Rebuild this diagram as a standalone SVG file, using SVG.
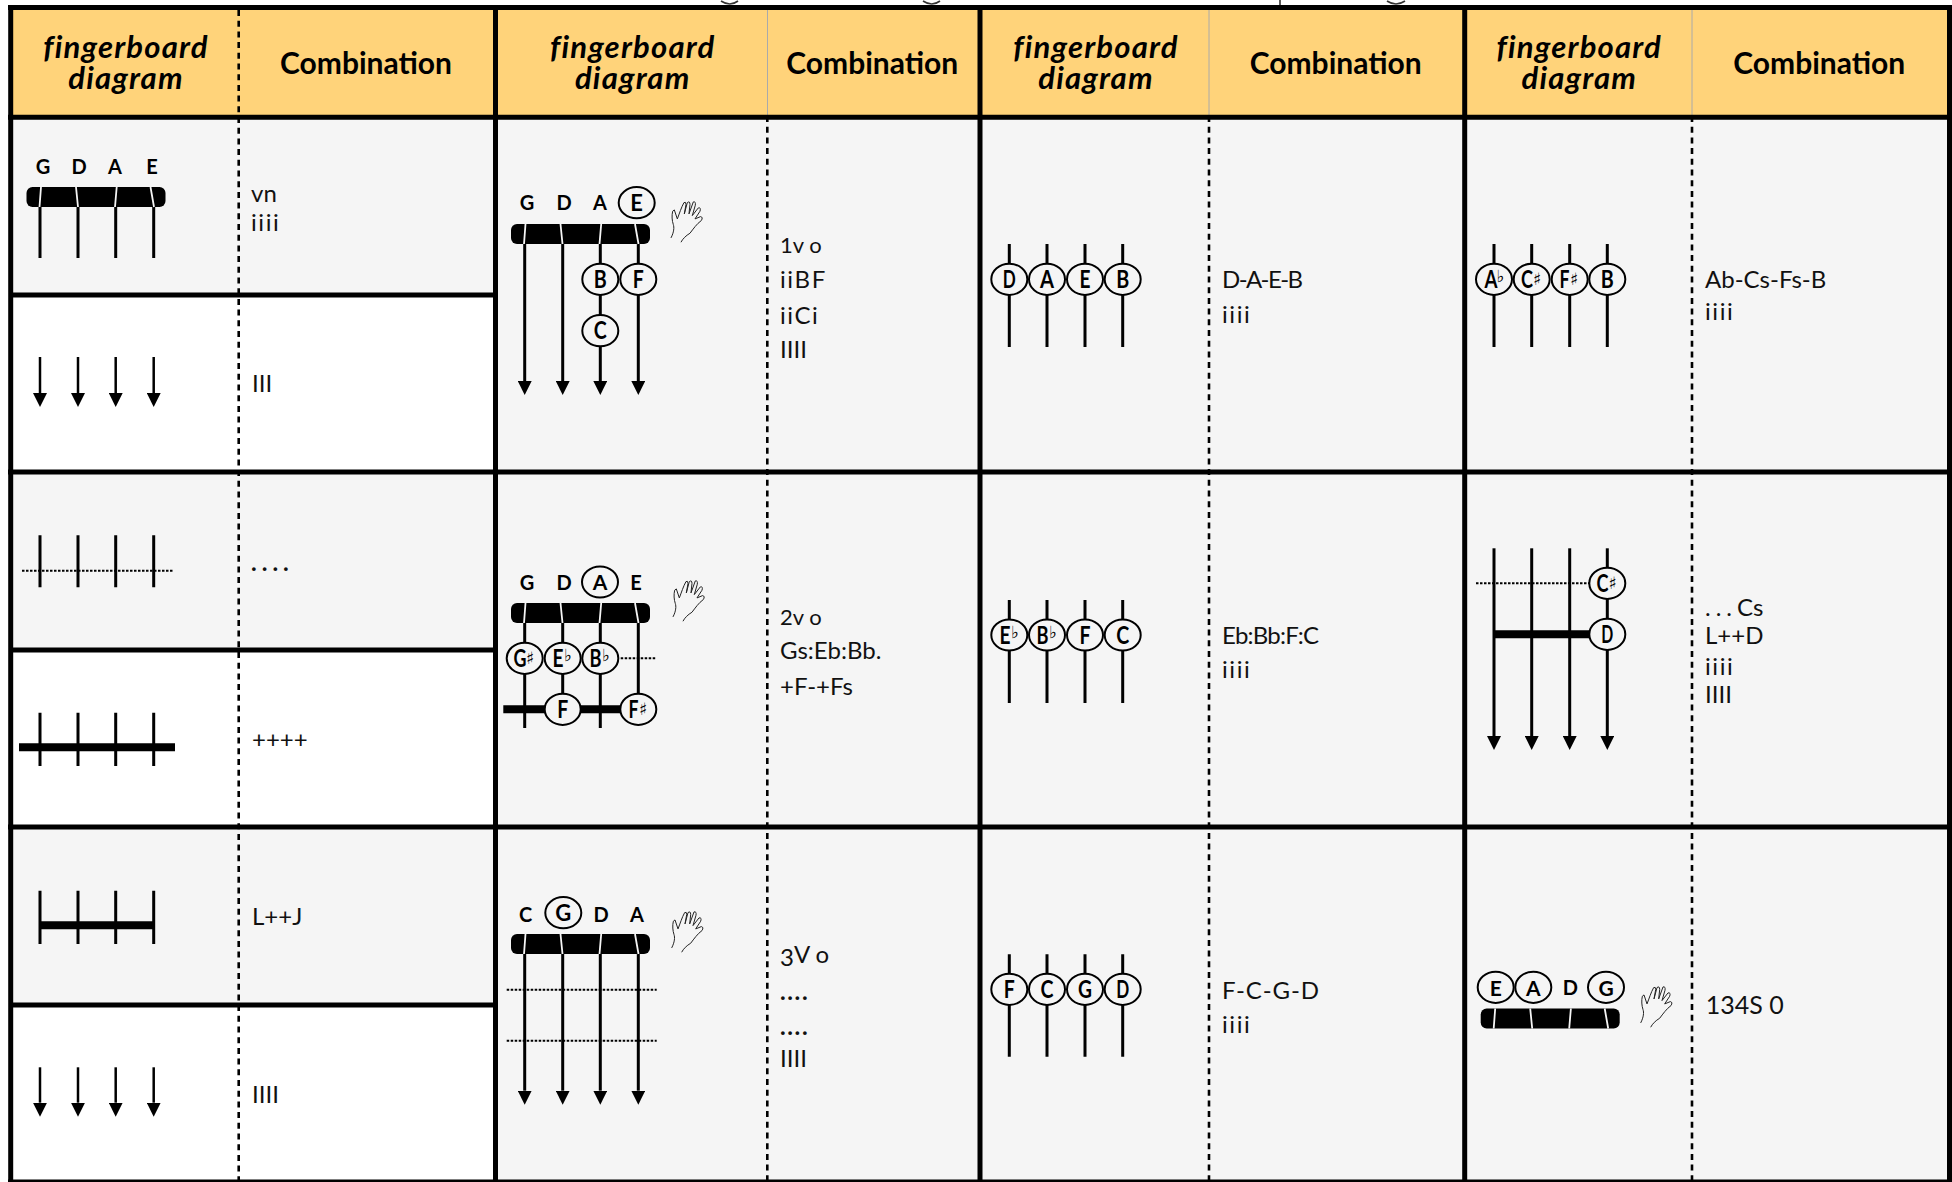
<svg xmlns="http://www.w3.org/2000/svg" xmlns:xlink="http://www.w3.org/1999/xlink" width="1952" height="1182" viewBox="0 0 1952 1182">
<style>
text{font-family:Lato,"Open Sans","Liberation Sans",sans-serif;fill:#111}
.h1{font-size:31px;font-weight:700;font-style:italic;text-anchor:middle;fill:#000;letter-spacing:1.2px}
.h2{font-size:30px;font-weight:700;text-anchor:middle;fill:#000}
.t{font-size:24px}
.i{font-size:24px;letter-spacing:1.6px}
.s{font-size:22px}
.l{font-size:20px;font-weight:700;text-anchor:middle;fill:#000}
.n{font-size:24px;font-weight:700;text-anchor:middle;fill:#000}
.a{font-family:"DejaVu Sans",sans-serif;font-size:17px;font-weight:400;fill:#000}
.str{stroke:#000;stroke-width:3;fill:none}
.arr{stroke:#000;stroke-width:3;fill:none;marker-end:url(#ah)}
.dot{stroke:#000;stroke-width:2;stroke-dasharray:2.5 1.5;fill:none}
.fret{stroke:#000;stroke-width:8;fill:none}
.grid{stroke:#000;stroke-width:5;fill:none}
.dash{stroke:#000;stroke-width:2.6;stroke-dasharray:6 4.7;fill:none}
.thin{stroke:#aaa;stroke-width:1;fill:none}
.ring{fill:#f5f5f5;stroke:#000;stroke-width:2}
</style>
<defs>
<marker id="ah" markerUnits="userSpaceOnUse" markerWidth="14" markerHeight="14" refX="0" refY="7" orient="auto"><path d="M0,0 L14,7 L0,14Z" fill="#000"/></marker>
<ellipse id="c" class="ring" rx="18" ry="15.6"/>
<g id="nut">
<rect width="139" height="20" rx="6" fill="#000"/>
<path d="M14.5,0 L13,20 M49.5,0 L51.5,20 M90.2,0 L88.5,20 M124,0 L127.5,20" stroke="#f5f5f5" stroke-width="1.8" fill="none"/>
</g>
<path id="hand" transform="translate(-191,-200.4) scale(.3333)" fill="none" stroke="#222" stroke-width="3" d="M573,712 C582,695 583,680 580,672 C576,660 575,645 578,632 L583,628 L592,655 C598,640 604,620 612,606 Q618,602 618,612 L613,640 L622,606 Q630,600 630,612 L627,640 L640,604 Q648,602 646,614 L637,645 L655,622 Q664,620 660,632 L645,655 L662,648 Q670,650 664,660 C650,670 640,685 630,698 C618,705 608,715 603,725"/>
</defs>

<g id="background">
<rect width="1952" height="1182" fill="#fff"/>
<rect x="10" y="7" width="1940" height="110" fill="#ffd37a"/>
<rect x="495" y="117" width="1455" height="1065" fill="#f5f5f5"/>
<rect x="10" y="117" width="485" height="178" fill="#f5f5f5"/>
<rect x="10" y="472" width="485" height="178" fill="#f5f5f5"/>
<rect x="10" y="827" width="485" height="178" fill="#f5f5f5"/>
<path d="M721,1 Q730,7 738,1 M923,1 Q932,7 940,1 M1387,1 Q1396,7 1405,1 M1280,0 V5" fill="none" stroke="#333" stroke-width="1.6"/>
</g>

<g id="grid">
<path class="thin" d="M767.5,10 V115 M1209,10 V115 M1692,10 V115"/>
<path class="dash" d="M238.7,10 V1180 M767.3,116 V1180 M1209,116 V1180 M1692,116 V1180"/>
<path class="grid" d="M8,7.5 H1952 M8,117.3 H1952 M8,472 H1952 M8,827 H1952 M10,295 H495 M10,650 H495 M10,1005 H495 M10.7,5 V1182 M495.5,5 V1182 M980,5 V1182 M1464.7,5 V1182 M1949.5,5 V1182"/>
<path d="M8,1181 H1952" stroke="#000" stroke-width="3"/>
</g>

<g id="connectors">
<path class="str" d="M40,207 V258 M78,207 V258 M115.7,207 V258 M153.7,207 V258"/>
<path class="arr" style="stroke-width:2.5" d="M40,357 V393"/>
<path class="arr" style="stroke-width:2.5" d="M78,357 V393"/>
<path class="arr" style="stroke-width:2.5" d="M115.7,357 V393"/>
<path class="arr" style="stroke-width:2.5" d="M153.7,357 V393"/>
<path class="arr" d="M524.7,244 V381"/>
<path class="arr" d="M562.7,244 V381"/>
<path class="arr" d="M600.3,244 V381"/>
<path class="arr" d="M638.3,244 V381"/>
<path class="str" d="M1009.3,244 V347 M1047,244 V347 M1085,244 V347 M1122.7,244 V347"/>
<path class="str" d="M1494,244 V347 M1531.7,244 V347 M1569.7,244 V347 M1607.3,244 V347"/>

<path class="str" d="M40,535.3 V587.3 M78,535.3 V587.3 M115.7,535.3 V587.3 M153.7,535.3 V587.3"/>
<path class="dot" d="M22,570.7 H173"/>
<path class="str" d="M40,712.7 V766 M78,712.7 V766 M115.7,712.7 V766 M153.7,712.7 V766"/>
<path class="fret" d="M19,747.3 H175"/>
<path class="str" d="M524.7,623 V728 M562.7,623 V700 M600.3,623 V728 M638.3,623 V700"/>
<path class="dot" d="M620.7,658.3 H656.7"/>
<path class="fret" d="M503.3,709.3 H638"/>
<path class="str" d="M1009.3,600 V703 M1047,600 V703 M1085,600 V703 M1122.7,600 V703"/>
<path class="arr" d="M1494,548.3 V736"/>
<path class="arr" d="M1531.7,548.3 V736"/>
<path class="arr" d="M1569.7,548.3 V736"/>
<path class="arr" d="M1607.3,548.3 V736"/>
<path class="dot" d="M1476,583.3 H1590"/>
<path class="fret" d="M1494,634.3 H1590"/>

<path class="str" d="M40,890.7 V944 M78,890.7 V944 M115.7,890.7 V944 M153.7,890.7 V944"/>
<path class="fret" d="M40,925.3 H154"/>
<path class="arr" style="stroke-width:2.5" d="M40,1067.3 V1102.7"/>
<path class="arr" style="stroke-width:2.5" d="M78,1067.3 V1102.7"/>
<path class="arr" style="stroke-width:2.5" d="M115.7,1067.3 V1102.7"/>
<path class="arr" style="stroke-width:2.5" d="M153.7,1067.3 V1102.7"/>
<path class="arr" d="M524.7,954 V1090.7"/>
<path class="arr" d="M562.7,954 V1090.7"/>
<path class="arr" d="M600.3,954 V1090.7"/>
<path class="arr" d="M638.3,954 V1090.7"/>
<path class="dot" d="M506.7,989.7 H656.7 M506.7,1040.7 H656.7"/>
<path class="str" d="M1009.3,954.3 V1056.7 M1047,954.3 V1056.7 M1085,954.3 V1056.7 M1122.7,954.3 V1056.7"/>
</g>

<g id="header">
<text class="h1" x="126" y="57.5">fingerboard</text><text class="h1" x="126" y="89">diagram</text><text class="h2" x="366" y="74">Combination</text>
<text class="h1" x="632.7" y="57.5">fingerboard</text><text class="h1" x="632.7" y="89">diagram</text><text class="h2" x="872.3" y="74">Combination</text>
<text class="h1" x="1096" y="57.5">fingerboard</text><text class="h1" x="1096" y="89">diagram</text><text class="h2" x="1335.7" y="74">Combination</text>
<text class="h1" x="1579.3" y="57.5">fingerboard</text><text class="h1" x="1579.3" y="89">diagram</text><text class="h2" x="1819.3" y="74">Combination</text>
</g>

<g id="cell-1a">
<text class="l" x="43" y="174">G</text><text class="l" x="79" y="174">D</text><text class="l" x="115" y="174">A</text><text class="l" x="152" y="174">E</text>
<use href="#nut" x="26.5" y="187"/>
<text class="t" x="251" y="202">vn</text><text class="i" x="251" y="231">iiii</text>
</g>
<g id="cell-1b"><text class="t" x="252" y="392">III</text></g>

<g id="cell-2">
<text class="l" x="527" y="210">G</text><text class="l" x="564" y="210">D</text><text class="l" x="600" y="210">A</text>
<use href="#c" x="636.7" y="202.7"/><text class="l" x="636.7" y="210.5" style="font-size:22px">E</text>
<use href="#nut" x="511" y="224"/>
<use href="#hand" x="671" y="201"/>
<use href="#c" x="600.3" y="279.3"/><text class="n" x="600.3" y="288" textLength="13" lengthAdjust="spacingAndGlyphs">B</text>
<use href="#c" x="638.3" y="279.3"/><text class="n" x="638.3" y="288" textLength="11" lengthAdjust="spacingAndGlyphs">F</text>
<use href="#c" x="600.3" y="330.7"/><text class="n" x="600.3" y="339" textLength="13" lengthAdjust="spacingAndGlyphs">C</text>
<text class="s" x="780" y="253">1v o</text><text class="i" x="780" y="288">iiBF</text><text class="i" x="780" y="323.5">iiCi</text><text class="t" x="780" y="357.7">IIII</text>
</g>

<g id="cell-3">
<use href="#c" x="1009.3" y="279.3"/><text class="n" x="1009.3" y="288" textLength="13" lengthAdjust="spacingAndGlyphs">D</text>
<use href="#c" x="1047" y="279.3"/><text class="n" x="1047" y="288" textLength="14" lengthAdjust="spacingAndGlyphs">A</text>
<use href="#c" x="1085" y="279.3"/><text class="n" x="1085" y="288" textLength="11" lengthAdjust="spacingAndGlyphs">E</text>
<use href="#c" x="1122.7" y="279.3"/><text class="n" x="1122.7" y="288" textLength="13" lengthAdjust="spacingAndGlyphs">B</text>
<text class="t" x="1222" y="288" textLength="81">D-A-E-B</text><text class="i" x="1222" y="323">iiii</text>
</g>

<g id="cell-4">
<use href="#c" x="1494" y="279.3"/><text class="n" x="1491" y="288" textLength="13" lengthAdjust="spacingAndGlyphs">A</text><text class="a" x="1496.5" y="282">♭</text>
<use href="#c" x="1531.7" y="279.3"/><text class="n" x="1527" y="288" textLength="12" lengthAdjust="spacingAndGlyphs">C</text><text class="a" x="1533" y="285">♯</text>
<use href="#c" x="1569.7" y="279.3"/><text class="n" x="1564.5" y="288" textLength="10" lengthAdjust="spacingAndGlyphs">F</text><text class="a" x="1570" y="285">♯</text>
<use href="#c" x="1607.3" y="279.3"/><text class="n" x="1607.3" y="288" textLength="13" lengthAdjust="spacingAndGlyphs">B</text>
<text class="t" x="1705" y="288">Ab-Cs-Fs-B</text><text class="i" x="1705" y="320">iiii</text>
</g>

<g id="cell-5a"><text class="t" x="251" y="571" style="letter-spacing:5px;font-weight:700">....</text></g>
<g id="cell-5b"><text class="t" x="252" y="748">++++</text></g>

<g id="cell-6">
<text class="l" x="527" y="590">G</text><text class="l" x="564" y="590">D</text>
<use href="#c" x="600" y="582"/><text class="l" x="600" y="590" style="font-size:21px">A</text>
<text class="l" x="636" y="590">E</text>
<use href="#nut" x="511" y="603"/>
<use href="#hand" x="673" y="580"/>
<use href="#c" x="524.7" y="658.3"/><text class="n" x="520" y="667" textLength="13" lengthAdjust="spacingAndGlyphs">G</text><text class="a" x="526" y="664">♯</text>
<use href="#c" x="562.7" y="658.3"/><text class="n" x="558" y="667" textLength="11" lengthAdjust="spacingAndGlyphs">E</text><text class="a" x="564" y="661">♭</text>
<use href="#c" x="600.3" y="658.3"/><text class="n" x="595.5" y="667" textLength="12" lengthAdjust="spacingAndGlyphs">B</text><text class="a" x="602" y="661">♭</text>
<use href="#c" x="562.7" y="709.3"/><text class="n" x="562.7" y="718" textLength="11" lengthAdjust="spacingAndGlyphs">F</text>
<use href="#c" x="638.3" y="709.3"/><text class="n" x="633.5" y="718" textLength="10" lengthAdjust="spacingAndGlyphs">F</text><text class="a" x="639" y="715">♯</text>
<text class="s" x="780" y="625">2v o</text><text class="t" x="780" y="659.3">Gs:Eb:Bb.</text><text class="t" x="780" y="695">+F-+Fs</text>
</g>

<g id="cell-7">
<use href="#c" x="1009.3" y="635"/><text class="n" x="1005" y="643.7" textLength="11" lengthAdjust="spacingAndGlyphs">E</text><text class="a" x="1011" y="638">♭</text>
<use href="#c" x="1047" y="635"/><text class="n" x="1042.5" y="643.7" textLength="12" lengthAdjust="spacingAndGlyphs">B</text><text class="a" x="1049" y="638">♭</text>
<use href="#c" x="1085" y="635"/><text class="n" x="1085" y="643.7" textLength="11" lengthAdjust="spacingAndGlyphs">F</text>
<use href="#c" x="1122.7" y="635"/><text class="n" x="1122.7" y="643.7" textLength="13" lengthAdjust="spacingAndGlyphs">C</text>
<text class="t" x="1222" y="644" textLength="97">Eb:Bb:F:C</text><text class="i" x="1222" y="678">iiii</text>
</g>

<g id="cell-8">
<use href="#c" x="1607.3" y="583.3"/><text class="n" x="1602.5" y="592" textLength="12" lengthAdjust="spacingAndGlyphs">C</text><text class="a" x="1608.5" y="589">♯</text>
<use href="#c" x="1607.3" y="634.3"/><text class="n" x="1607.3" y="643" textLength="12" lengthAdjust="spacingAndGlyphs">D</text>
<text class="t" x="1705" y="616"><tspan style="letter-spacing:5px">...</tspan>Cs</text><text class="t" x="1705" y="644.3">L++D</text><text class="i" x="1705" y="675">iiii</text><text class="t" x="1705" y="703.3">IIII</text>
</g>

<g id="cell-9a"><text class="t" x="252" y="925.3">L++J</text></g>
<g id="cell-9b"><text class="t" x="252" y="1102.7">IIII</text></g>

<g id="cell-10">
<text class="l" x="525.7" y="921.7">C</text>
<use href="#c" x="563.3" y="912.7"/><text class="l" x="563.3" y="921" style="font-size:22px">G</text>
<text class="l" x="601" y="921.7">D</text><text class="l" x="637" y="921.7">A</text>
<use href="#nut" x="511" y="934"/>
<use href="#hand" x="671.7" y="911"/>
<text class="t" x="780" y="963"><tspan dy="3">3</tspan><tspan dy="-3">V o</tspan></text><text class="t" x="780" y="1000" style="letter-spacing:1.6px;font-weight:700">....</text><text class="t" x="780" y="1035" style="letter-spacing:1.6px;font-weight:700">....</text><text class="t" x="780" y="1067">IIII</text>
</g>

<g id="cell-11">
<use href="#c" x="1009.3" y="989.3"/><text class="n" x="1009.3" y="998" textLength="11" lengthAdjust="spacingAndGlyphs">F</text>
<use href="#c" x="1047" y="989.3"/><text class="n" x="1047" y="998" textLength="13" lengthAdjust="spacingAndGlyphs">C</text>
<use href="#c" x="1085" y="989.3"/><text class="n" x="1085" y="998" textLength="14" lengthAdjust="spacingAndGlyphs">G</text>
<use href="#c" x="1122.7" y="989.3"/><text class="n" x="1122.7" y="998" textLength="13" lengthAdjust="spacingAndGlyphs">D</text>
<text class="t" x="1222" y="999" textLength="97">F-C-G-D</text><text class="i" x="1222" y="1033">iiii</text>
</g>

<g id="cell-12">
<use href="#c" x="1495.7" y="987.3"/><text class="l" x="1495.7" y="995.5" style="font-size:21px">E</text>
<use href="#c" x="1533.3" y="987.3"/><text class="l" x="1533.3" y="995.5" style="font-size:21px">A</text>
<text class="l" x="1570.3" y="995">D</text>
<use href="#c" x="1606" y="987.3"/><text class="l" x="1606" y="995.5" style="font-size:21px">G</text>
<use href="#nut" x="1480.7" y="1008.5"/>
<use href="#hand" x="1640.7" y="986"/>
<text class="t" x="1705.7" y="1014" style="font-size:25px">134S 0</text>
</g>
</svg>
